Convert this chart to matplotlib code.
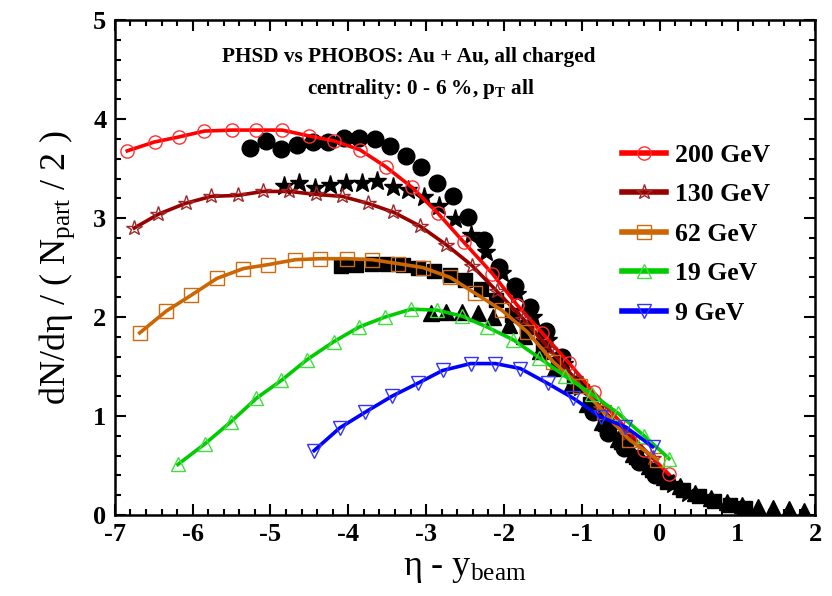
import matplotlib
matplotlib.use("Agg")
import matplotlib.pyplot as plt
import numpy as np

plt.rcParams["font.family"] = ["Liberation Serif", "DejaVu Serif"]
plt.rcParams["mathtext.fontset"] = "custom"
plt.rcParams["mathtext.rm"] = "Liberation Serif"
plt.rcParams["mathtext.it"] = "Liberation Serif:italic"
plt.rcParams["mathtext.bf"] = "Liberation Serif:bold"
plt.rcParams["axes.unicode_minus"] = False

# PHSD curves (eta - y_beam, dN/deta per participant pair)
phsd_200_x = [-6.84, -6.49, -6.18, -5.85, -5.50, -5.18, -4.85, -4.50, -4.18, -3.85, -3.52,
              -3.18, -2.85, -2.52, -2.15, -1.83, -1.51, -1.17, -0.85, -0.53, -0.20, 0.12]
phsd_200_y = [3.68, 3.77, 3.82, 3.88, 3.89, 3.89, 3.89, 3.83, 3.78, 3.69, 3.52,
              3.31, 3.05, 2.76, 2.44, 2.12, 1.84, 1.54, 1.24, 0.96, 0.66, 0.41]

phsd_130_x = [-6.75, -6.44, -6.09, -5.76, -5.42, -5.09, -4.76, -4.42, -4.08, -3.75, -3.42,
              -3.08, -2.74, -2.41, -2.09, -1.75, -1.42, -1.09, -0.75, -0.42, -0.09]
phsd_130_y = [2.90, 3.04, 3.15, 3.22, 3.23, 3.27, 3.27, 3.24, 3.22, 3.15, 3.06,
              2.92, 2.73, 2.52, 2.26, 1.98, 1.68, 1.38, 1.08, 0.82, 0.58]

phsd_62_x = [-6.68, -6.34, -6.02, -5.69, -5.35, -5.03, -4.68, -4.36, -4.02, -3.69, -3.36,
             -3.04, -2.69, -2.37, -2.03, -1.70, -1.37, -1.02, -0.72, -0.39, -0.03]
phsd_62_y = [1.84, 2.06, 2.22, 2.39, 2.49, 2.53, 2.58, 2.59, 2.59, 2.58, 2.54,
             2.50, 2.40, 2.24, 2.07, 1.85, 1.55, 1.30, 1.04, 0.76, 0.56]

phsd_19_x = [-6.19, -5.84, -5.51, -5.18, -4.86, -4.53, -4.19, -3.86, -3.53, -3.19, -2.86,
             -2.54, -2.22, -1.88, -1.55, -1.21, -0.87, -0.54, -0.20, 0.12]
phsd_19_y = [0.51, 0.72, 0.94, 1.18, 1.36, 1.57, 1.75, 1.90, 2.00, 2.08, 2.07,
             2.01, 1.90, 1.77, 1.59, 1.40, 1.22, 1.03, 0.80, 0.57]

phsd_9_x = [-4.44, -4.11, -3.78, -3.44, -3.11, -2.79, -2.43, -2.11, -1.79, -1.44, -1.11,
            -0.76, -0.44, -0.09]
phsd_9_y = [0.65, 0.88, 1.04, 1.20, 1.33, 1.46, 1.53, 1.53, 1.48, 1.33, 1.18,
            0.99, 0.89, 0.69]

# PHOBOS data: eta bin centres and beam rapidities
eta_bins = [0.1, 0.3, 0.5, 0.7, 0.9, 1.1, 1.3, 1.5, 1.7, 1.9, 2.1, 2.3, 2.5, 2.7,
            2.9, 3.1, 3.3, 3.5, 3.7, 3.9, 4.1, 4.3, 4.5, 4.7, 4.9, 5.1, 5.3]
y_beam = {"200": 5.36, "130": 4.93, "62": 4.20, "19": 3.04}

phobos_200 = [3.71, 3.78, 3.70, 3.74, 3.77, 3.77, 3.81, 3.81, 3.80, 3.73, 3.63, 3.52, 3.36, 3.22,
              3.01, 2.78, 2.51, 2.31, 2.10, 1.86, 1.60, 1.32, 1.04, 0.83, 0.68, 0.54, 0.40]
phobos_130 = [3.32, 3.36, 3.30, 3.33, 3.36, 3.36, 3.38, 3.31, 3.28, 3.21, 3.12, 2.99, 2.83, 2.66,
              2.45, 2.23, 2.00, 1.77, 1.53, 1.29, 1.07, 0.87, 0.70, 0.55, 0.42, 0.31, 0.22]
phobos_62 = [2.52, 2.53, 2.54, 2.54, 2.53, 2.50, 2.47, 2.43, 2.37, 2.28, 2.17, 2.02, 1.90, 1.72,
             1.53, 1.33, 1.12, 0.92, 0.74, 0.59, 0.45, 0.33, 0.25, 0.19, 0.14, 0.10, 0.07]
phobos_19 = [2.04, 2.05, 2.05, 2.04, 2.00, 1.92, 1.81, 1.66, 1.49, 1.31, 1.12, 0.94, 0.77, 0.62,
             0.49, 0.38, 0.29, 0.22, 0.17, 0.13, 0.10, 0.08, 0.07, 0.06, 0.04, 0.03, 0.02]

fig = plt.figure(figsize=(8.32, 5.96), dpi=100)
ax = fig.add_axes([0.138, 0.136, 0.842, 0.830])

eta = np.array(eta_bins)
ax.plot(eta - y_beam["19"], phobos_19, ls="none", marker="^", ms=11, color="black")
ax.plot(eta - y_beam["62"], phobos_62, ls="none", marker="s", ms=10.5, color="black")
ax.plot(eta - y_beam["130"], phobos_130, ls="none", marker="*", ms=14, color="black")
ax.plot(eta - y_beam["200"], phobos_200, ls="none", marker="o", ms=12, color="black")

curves = [
    (phsd_200_x, phsd_200_y, "200 GeV", "#ff0000", "#ff3030", "o", 9.5),
    (phsd_130_x, phsd_130_y, "130 GeV", "#990000", "#a02828", "*", 11.5),
    (phsd_62_x, phsd_62_y, "62 GeV", "#cc6600", "#cc6a10", "s", 10),
    (phsd_19_x, phsd_19_y, "19 GeV", "#00cc00", "#44dd44", "^", 9.5),
    (phsd_9_x, phsd_9_y, "9 GeV", "#0000ff", "#3333ff", "v", 9.5),
]
for xs, ys, label, lc, mc, mk, ms in curves:
    ax.plot(xs, ys, color=lc, lw=2.6, marker=mk, ms=ms, mfc="none", mec=mc, mew=1.0,
            label=label)

ax.set_xlim(-7, 2)
ax.set_ylim(0, 5)
ax.set_xticks(np.arange(-7, 3, 1))
ax.set_xticks(np.arange(-7, 2.01, 0.2), minor=True)
ax.set_yticks(np.arange(0, 6, 1))
ax.set_yticks(np.arange(0, 5.01, 0.2), minor=True)
ax.tick_params(which="both", direction="in", top=True, right=True, width=1.5)
ax.tick_params(which="major", length=8, labelsize=19, pad=6)
ax.tick_params(which="minor", length=4.5)
for lbl in ax.get_xticklabels() + ax.get_yticklabels():
    lbl.set_fontweight("bold")
for sp in ax.spines.values():
    sp.set_linewidth(1.8)

ax.set_xlabel(r"η - y$_{\rm beam}$", fontsize=26, labelpad=4)
ax.set_ylabel(r"dN/dη / ( N$_{\rm part}$ / 2 )", fontsize=26, labelpad=12)

ax.text(0.42, 0.925, "PHSD vs PHOBOS: Au + Au, all charged", transform=ax.transAxes,
        ha="center", va="center", fontsize=15.3, fontweight="bold")
ax.text(0.437, 0.862, r"centrality: 0 - 6 %, p$_{\mathbf{T}}$ all", transform=ax.transAxes,
        ha="center", va="center", fontsize=15.3, fontweight="bold")

leg = ax.legend(loc="upper left", bbox_to_anchor=(0.724, 0.75), frameon=False,
                prop={"weight": "bold", "size": 18.5}, handlelength=1.7,
                handletextpad=0.35, labelspacing=0.64, borderaxespad=0, borderpad=0)
for line in leg.get_lines():
    line.set_linewidth(4)

fig.savefig("out.png", dpi=100)
